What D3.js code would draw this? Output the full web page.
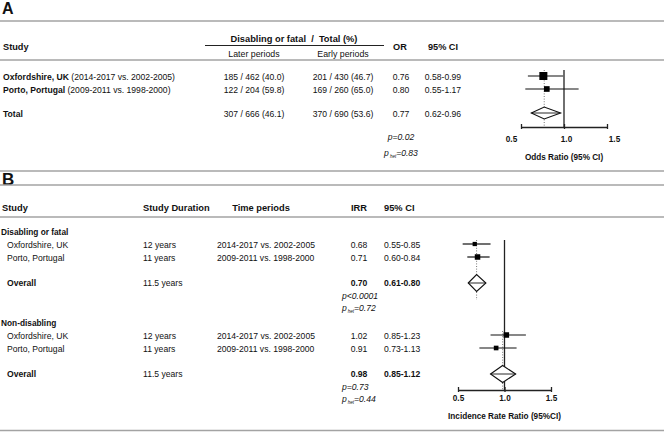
<!DOCTYPE html>
<html><head><meta charset="utf-8">
<script src="https://cdn.jsdelivr.net/npm/d3@7"></script>
<style>
body{margin:0;background:#fff}
svg{display:block;font-family:Arial,"Liberation Sans",sans-serif}
text{white-space:pre}
</style></head><body>
<svg id="c" width="666" height="432"></svg>
<script>
// ---------- Panel A data ----------
const studiesA = ["Oxfordshire, UK", "Porto, Portugal"];
const periodsA = ["(2014-2017 vs. 2002-2005)", "(2009-2011 vs. 1998-2000)"];
const laterA = ["185 / 462 (40.0)", "122 / 204 (59.8)"];
const earlyA = ["201 / 430 (46.7)", "169 / 260 (65.0)"];
const orA = [0.76, 0.80];
const orLoA = [0.58, 0.55];
const orHiA = [0.99, 1.17];
const totalCountsA = ["307 / 666 (46.1)", "370 / 690 (53.6)"];
const totalOrA = [0.77, 0.62, 0.96];
const pValueA = "p=0.02";
const pHetA = "=0.83";
const ticks = [0.5, 1.0, 1.5];

// ---------- Panel B data ----------
const groupsB = ["Disabling or fatal", "Non-disabling"];
const studiesB = ["Oxfordshire, UK", "Porto, Portugal"];
const durationsB = ["12 years", "11 years"];
const periodsB = ["2014-2017 vs. 2002-2005", "2009-2011 vs. 1998-2000"];
const irrB = [[0.68, 0.71], [1.02, 0.91]];
const irrLoB = [[0.55, 0.60], [0.85, 0.73]];
const irrHiB = [[0.85, 0.84], [1.23, 1.13]];
const overallIrrB = [0.70, 0.98];
const overallLoB = [0.61, 0.85];
const overallHiB = [0.80, 1.12];
const overallDurB = "11.5 years";
const pValueB = ["p<0.0001", "p=0.73"];
const pHetB = ["=0.72", "=0.44"];

const f2 = d3.format(".2f");
const svg = d3.select("#c");
const grey = "#a3a3a3";

function txt(x, y, s, o = {}) {
  return svg.append("text").attr("x", x).attr("y", y).attr("dy", "0.35em")
    .attr("font-size", o.size || 8.6)
    .attr("font-weight", o.bold ? "bold" : "normal")
    .attr("font-style", o.italic ? "italic" : "normal")
    .attr("text-anchor", o.anchor || "start")
    .attr("fill", "#111").text(s);
}
function hline(y, x1 = 0, x2 = 664, c = grey, w = 1.3) {
  svg.append("line").attr("x1", x1).attr("x2", x2).attr("y1", y).attr("y2", y)
    .attr("stroke", c).attr("stroke-width", w);
}
function pHet(x, y, val, anchor) {
  const t = svg.append("text").attr("x", x).attr("y", y).attr("dy", "0.35em")
    .attr("font-size", 8.6).attr("font-style", "italic").attr("fill", "#111")
    .attr("text-anchor", anchor || "start");
  t.append("tspan").text("p");
  t.append("tspan").attr("font-size", 4.5).attr("dy", 1.5).attr("dx", 1).text("het");
  t.append("tspan").attr("dy", -1.5).text(val);
}
const invVar = (lo, hi) => 1 / Math.pow((Math.log(hi) - Math.log(lo)) / 3.92, 2);

function forestAxis(x, y, pad, labelY, label, dxFn) {
  const ax = svg.append("g").attr("transform", `translate(0,${y})`)
    .call(d3.axisBottom(x).tickValues(ticks).tickFormat(d3.format(".1f"))
      .tickSizeInner(-4).tickSizeOuter(0).tickPadding(pad));
  ax.select(".domain").attr("stroke", "#222").attr("stroke-width", 1.3);
  ax.selectAll(".tick line").attr("stroke", "#222").attr("stroke-width", 1.3)
    .attr("y2", -3).attr("y1", 2);
  ax.selectAll(".tick text").attr("font-size", 8.2).attr("font-weight", "bold")
    .attr("fill", "#111").attr("font-family", "Arial, 'Liberation Sans', sans-serif")
    .attr("dx", dxFn);
  txt(x(1.0), labelY, label, {bold: true, size: 8.2, anchor: "middle"});
}
function diamond(x, y, est, lo, hi, h) {
  svg.append("path")
    .attr("d", `M${x(lo)},${y}L${x(est)},${y - h}L${x(hi)},${y}L${x(est)},${y + h}Z`)
    .attr("fill", "#fff").attr("stroke", "#111").attr("stroke-width", 1.1);
  svg.append("line").attr("x1", x(lo)).attr("x2", x(hi)).attr("y1", y).attr("y2", y)
    .attr("stroke", "#111").attr("stroke-width", 0.9);
}
function vline(x, y1, y2, dotted, w) {
  svg.append("line").attr("x1", x).attr("x2", x).attr("y1", y1).attr("y2", y2)
    .attr("stroke", dotted ? "#777" : "#222").attr("stroke-width", w || 1)
    .attr("stroke-dasharray", dotted ? "1,1.6" : null);
}
function study(x, y, est, lo, hi, s) {
  svg.append("line").attr("x1", x(lo)).attr("x2", x(hi)).attr("y1", y).attr("y2", y)
    .attr("stroke", "#111").attr("stroke-width", 1.2);
  svg.append("rect").attr("x", x(est) - s / 2).attr("y", y - s / 2)
    .attr("width", s).attr("height", s).attr("fill", "#000");
}

// ================= PANEL A =================
svg.append("text").attr("x", 2).attr("y", 14).attr("font-size", 16)
  .attr("font-weight", "bold").attr("fill", "#111").text("A");
hline(21);
txt(3, 47, "Study", {bold: true, size: 9.2});
txt(294, 39, "Disabling or fatal  /  Total (%)", {bold: true, size: 9.3, anchor: "middle"});
hline(45.5, 205, 384, "#222", 1);
txt(254, 53.5, "Later periods", {size: 8.8, anchor: "middle"});
txt(343, 53.5, "Early periods", {size: 8.8, anchor: "middle"});
txt(400, 47, "OR", {bold: true, size: 9.2, anchor: "middle"});
txt(443, 47, "95% CI", {bold: true, size: 9.2, anchor: "middle"});
hline(60);

const xA = d3.scaleLinear().domain([0.5, 1.5]).range([521, 607]);
const rowYA = [77, 90];
const wA = orA.map((d, i) => invVar(orLoA[i], orHiA[i]));
const sA = d3.scaleSqrt().domain([0, d3.max(wA)]).range([0, 8]);

vline(xA(totalOrA[0]), 70, 127, true);
vline(xA(1.0), 70, 127, false, 1.3);

studiesA.forEach((s, i) => {
  const t = svg.append("text").attr("x", 3).attr("y", rowYA[i]).attr("dy", "0.35em")
    .attr("font-size", 8.6).attr("fill", "#111");
  t.append("tspan").attr("font-weight", "bold").text(s);
  t.append("tspan").text(" " + periodsA[i]);
  txt(254, rowYA[i], laterA[i], {anchor: "middle"});
  txt(343, rowYA[i], earlyA[i], {anchor: "middle"});
  txt(401, rowYA[i], f2(orA[i]), {anchor: "middle"});
  txt(443, rowYA[i], f2(orLoA[i]) + "-" + f2(orHiA[i]), {anchor: "middle"});
  study(xA, rowYA[i] - 1, orA[i], orLoA[i], orHiA[i], sA(wA[i]));
});
const totY = 114;
txt(3, totY, "Total", {bold: true});
txt(254, totY, totalCountsA[0], {anchor: "middle"});
txt(343, totY, totalCountsA[1], {anchor: "middle"});
txt(401, totY, f2(totalOrA[0]), {anchor: "middle"});
txt(443, totY, f2(totalOrA[1]) + "-" + f2(totalOrA[2]), {anchor: "middle"});
diamond(xA, totY - 1, totalOrA[0], totalOrA[1], totalOrA[2], 6);
txt(401, 137, pValueA, {italic: true, anchor: "middle"});
pHet(401, 153, pHetA, "middle");
forestAxis(xA, 127, 9, 157, "Odds Ratio (95% CI)", d => d < 1 ? -10 : (d > 1 ? 7 : 2));

// ================= PANEL B =================
hline(171);
svg.append("text").attr("x", 2).attr("y", 184.5).attr("font-size", 17)
  .attr("font-weight", "bold").attr("fill", "#111").text("B");
hline(185);
txt(2, 208, "Study", {bold: true, size: 9.3});
txt(143, 208, "Study Duration", {bold: true, size: 9.3});
txt(261, 208, "Time periods", {bold: true, size: 9.3, anchor: "middle"});
txt(359, 208, "IRR", {bold: true, size: 9.3, anchor: "middle"});
txt(384, 208, "95% CI", {bold: true, size: 9.3});
hline(217);

const xB = d3.scaleLinear().domain([0.5, 1.5]).range([458, 551]);
vline(xB(1.0), 240, 390, false, 1.3);

groupsB.forEach((g, gi) => {
  const base = 232 + gi * 91;
  const ys = [base + 13, base + 26];
  const oy = base + 51;
  const w = irrB[gi].map((d, i) => invVar(irrLoB[gi][i], irrHiB[gi][i]));
  const sB = d3.scaleSqrt().domain([0, d3.max(w)]).range([0, 5.5]);
  vline(xB(overallIrrB[gi]), base + 8, oy + 17, true);
  txt(1, base, g, {bold: true, size: 8.3});
  studiesB.forEach((s, i) => {
    txt(7, ys[i], s);
    txt(143, ys[i], durationsB[i]);
    txt(217, ys[i], periodsB[i]);
    txt(359, ys[i], f2(irrB[gi][i]), {anchor: "middle"});
    txt(384, ys[i], f2(irrLoB[gi][i]) + "-" + f2(irrHiB[gi][i]));
    study(xB, ys[i] - 1, irrB[gi][i], irrLoB[gi][i], irrHiB[gi][i], sB(w[i]));
  });
  txt(7, oy, "Overall", {bold: true});
  txt(143, oy, overallDurB);
  txt(359, oy, f2(overallIrrB[gi]), {bold: true, anchor: "middle"});
  txt(384, oy, f2(overallLoB[gi]) + "-" + f2(overallHiB[gi]), {bold: true});
  diamond(xB, oy, overallIrrB[gi], overallLoB[gi], overallHiB[gi], 8.5);
  txt(342, oy + 13, pValueB[gi], {italic: true});
  pHet(342, oy + 25, pHetB[gi]);
});
forestAxis(xB, 390, 5, 416, "Incidence Rate Ratio (95%CI)", 0);
hline(430.5);
</script>
</body></html>
